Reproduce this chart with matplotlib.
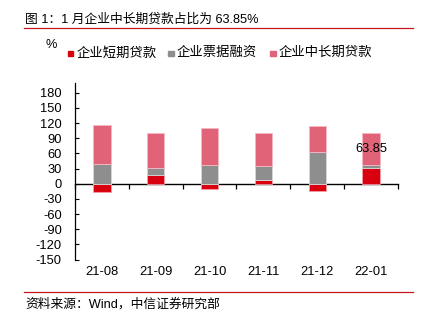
import numpy as np
import matplotlib
matplotlib.use("Agg")
import matplotlib.pyplot as plt
from matplotlib.patches import Rectangle
from matplotlib.lines import Line2D

plt.rcParams['font.family'] = ['Liberation Sans', 'Noto Sans CJK SC', 'DejaVu Sans']
plt.rcParams['axes.unicode_minus'] = False

# monthly shares of new corporate loans, %
months = ['21-08', '21-09', '21-10', '21-11', '21-12', '22-01']
short_term = [-16, 16.5, -9.5, 8, -15, 30.9]
bill_fin = [40, 15.2, 38, 28, 63, 5.25]
mid_long = [76, 68.3, 71.5, 64, 52, 63.85]
series_names = ['企业短期贷款', '企业票据融资', '企业中长期贷款']
yticks = list(range(-150, 181, 30))

c_red = '#D9000F'
c_gray = '#8E8E8E'
c_pink = '#E06378'
c_line = '#C8161D'

fig = plt.figure(figsize=(4.21, 3.22), dpi=100)
ax = fig.add_axes([75 / 421, 1 - 259.5 / 322, 323 / 421, 176.8 / 322])

x = np.arange(len(months))
w = 0.32
short = np.array(short_term)
bill = np.array(bill_fin)
ml = np.array(mid_long)
base = np.clip(short, 0, None)  # stacking starts above positive short-term share

ax.bar(x, short, w, color=c_red, edgecolor='#F2A0A6', linewidth=0.6, zorder=2)
ax.bar(x, bill, w, bottom=base, color=c_gray, edgecolor='#D8D8D8', linewidth=0.6, zorder=2)
ax.bar(x, ml, w, bottom=base + bill, color=c_pink, edgecolor='#F4B8C2', linewidth=0.6, zorder=2)

# value label on the latest mid/long-term segment
last = len(months) - 1
ax.text(x[last], base[last] + bill[last] + ml[last] / 2, f'{mid_long[last]:.2f}',
        ha='center', va='center', fontsize=9.3, color='black', zorder=3)

ax.set_xlim(-0.5, len(months) - 0.5)
ax.set_ylim(-150, 200)
ax.set_yticks(yticks)
ax.tick_params(axis='y', direction='in', length=3, width=0.8, pad=9.5, labelsize=9.3)
ax.set_xticks(x)
ax.set_xticklabels(months)
ax.tick_params(axis='x', length=0, pad=5, labelsize=9.3)
for s in ['top', 'right', 'bottom']:
    ax.spines[s].set_visible(False)
ax.spines['left'].set_linewidth(0.9)

# zero line with tick marks between categories
zero_ax = ax.secondary_xaxis(150 / 350)
zero_ax.set_xticks(np.arange(len(months) + 1) - 0.5)
zero_ax.tick_params(direction='out', length=3.5, width=0.9, labelbottom=False)
zero_ax.spines['bottom'].set_linewidth(1.0)

# title, legend and source
fig.text(25 / 421, 1 - 20 / 322, '图 1：1 月企业中长期贷款占比为 63.85%',
         fontsize=9.2, va='center', ha='left')
fig.add_artist(Line2D([24 / 421, 413 / 421], [1 - 27.5 / 322] * 2, color=c_line, lw=0.9))
fig.add_artist(Line2D([24 / 421, 413 / 421], [1 - 292.3 / 322] * 2, color=c_line, lw=0.9))
fig.text(25 / 421, 1 - 304 / 322, '资料来源：Wind，中信证券研究部',
         fontsize=9.2, va='center', ha='left')
fig.text(50.7 / 421, 1 - 45 / 322, '%', fontsize=9.2, ha='center', va='center')

leg_x = [67.7, 168, 270]
for lx, name, col in zip(leg_x, series_names, [c_red, c_gray, c_pink]):
    fig.add_artist(Rectangle((lx / 421, 1 - 56 / 322), 5.5 / 421, 5.5 / 322,
                             transform=fig.transFigure, color=col))
    fig.text((lx + 8.5) / 421, 1 - 53 / 322, name, fontsize=9.6, va='center', ha='left')

fig.savefig('out.png', dpi=100)
